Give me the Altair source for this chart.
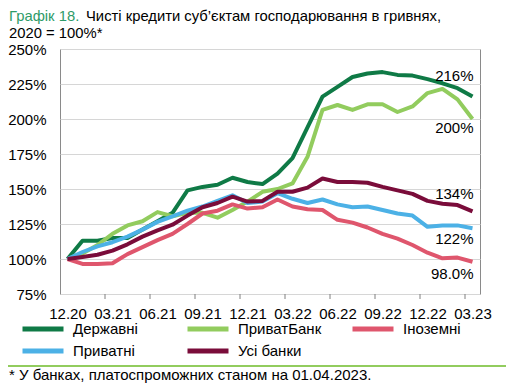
import altair as alt
import pandas as pd

FONT = "Liberation Sans"

months = ["12.20", "01.21", "02.21", "03.21", "04.21", "05.21", "06.21", "07.21",
          "08.21", "09.21", "10.21", "11.21", "12.21", "01.22", "02.22", "03.22",
          "04.22", "05.22", "06.22", "07.22", "08.22", "09.22", "10.22", "11.22",
          "12.22", "01.23", "02.23", "03.23"]

state = [100, 113, 113, 115, 115, 121, 127, 133, 149, 151.5, 153, 158, 155, 153.5,
         161, 172, 194, 216, 223, 230, 232.5, 233.5, 231.5, 231, 228.5, 225.5, 222, 216]
privatbank = [100, 104, 110, 118, 124, 127, 133.5, 130.5, 133, 133, 129.5, 135, 141, 148,
              150, 154, 173, 206.5, 210, 206.5, 210.5, 210.5, 205, 209, 218.5, 221.5, 214, 200]
foreign = [100, 96.5, 96.5, 97, 103.5, 108.5, 113.5, 118, 125, 132.5, 134.5, 139, 136, 137,
           142.5, 137.5, 135.5, 135, 128, 126, 122.5, 118, 114.5, 110, 104.5, 100.5, 101, 98]
private = [100, 105, 109, 112, 116, 121, 126.5, 130.5, 134.5, 137.5, 141.5, 145.5, 140, 141,
           147, 143, 140, 142.5, 139, 137, 137.5, 135, 132.5, 131, 123, 124, 124, 122]
all_banks = [100, 101.5, 103, 106, 110.5, 116, 120.5, 124.5, 131, 137, 140, 144.5, 141, 141.5,
             148, 148, 151, 157.5, 155, 155, 154.5, 151.5, 149, 146.5, 141.5, 139.5, 138.5, 134]

series_names = ["Державні", "ПриватБанк", "Іноземні", "Приватні", "Усі банки"]
series_colors = ["#0f7a46", "#92cc5e", "#df566d", "#4cb1e6", "#7a0c3a"]
end_labels = ["216%", "200%", "98.0%", "122%", "134%"]

title_prefix = "Графік 18."
title_line1 = "Чисті кредити суб’єктам господарювання в гривнях,"
title_line2 = "2020 = 100%*"
footnote = "* У банках, платоспроможних станом на 01.04.2023."

W, H = 420, 245

all_values = [state, privatbank, foreign, private, all_banks]
rows = []
for name, vals in zip(series_names, all_values):
    for i, v in enumerate(vals):
        rows.append({"idx": i, "month": months[i], "series": name, "value": v})
df = pd.DataFrame(rows)

label_expr = "[" + ",".join(f"'{m}'" for m in months) + "][datum.value]"
x_scale = alt.Scale(domain=[-0.5, len(months) - 0.5], nice=False, zero=False)
y_scale = alt.Scale(domain=[75, 250], nice=False, zero=False)

x_axis = alt.Axis(values=list(range(0, len(months), 3)), labelExpr=label_expr,
                  title=None, grid=False, ticks=False, tickSize=0, domain=False,
                  labelFontSize=15, labelFont=FONT, labelColor="#000000",
                  labelPadding=12, labelAngle=0, labelFlush=False, labelOverlap=False)
y_axis = alt.Axis(values=list(range(75, 251, 25)), labelExpr="datum.value + '%'",
                  title=None, grid=True, gridColor="#d6d6d6", gridWidth=1.2,
                  ticks=False, tickSize=0, domain=False,
                  labelFontSize=15, labelFont=FONT, labelColor="#000000",
                  labelPadding=14)


def xenc():
    return alt.X("idx:Q", scale=x_scale, axis=x_axis, title=None)


def yenc():
    return alt.Y("value:Q", scale=y_scale, axis=y_axis, title=None)


lines = alt.Chart(df).mark_line(strokeWidth=4, strokeJoin="round").encode(
    x=xenc(),
    y=yenc(),
    color=alt.Color("series:N",
                    scale=alt.Scale(domain=series_names, range=series_colors),
                    legend=alt.Legend(title=None, orient="none", legendX=-40, legendY=270,
                                      direction="horizontal", columns=3,
                                      symbolType="stroke", symbolSize=1681,
                                      symbolStrokeWidth=5, clipHeight=20,
                                      labelFontSize=15, labelFont=FONT,
                                      labelColor="#000000", labelOffset=7,
                                      columnPadding=28, rowPadding=2, gridAlign="all",
                                      padding=0, offset=0)),
)

tick_df = pd.DataFrame({"idx": [i + 2.5 for i in range(0, len(months) - 3, 3)]})
ticks = alt.Chart(tick_df).mark_rule(color="#808080", strokeWidth=1).encode(
    x=xenc(),
    y=alt.value(H), y2=alt.value(H + 5),
)

dy_map = {"Державні": -21, "ПриватБанк": 9, "Іноземні": 12, "Приватні": 11, "Усі банки": -17}
ann_layers = []
for name, vals, lab in zip(series_names, all_values, end_labels):
    adf = pd.DataFrame({"idx": [len(vals) - 1], "value": [vals[-1]], "label": [lab]})
    ann_layers.append(
        alt.Chart(adf).mark_text(align="right", baseline="middle", fontSize=15,
                                 font=FONT, color="#000000", dx=1, dy=dy_map[name]).encode(
            x=xenc(),
            y=yenc(),
            text="label:N",
        )
    )


def text_layer(txt, x, y, color="#000000", size=15):
    return alt.Chart(pd.DataFrame({"t": [txt]})).mark_text(
        align="left", baseline="alphabetic", fontSize=size, font=FONT, color=color
    ).encode(text="t:N", x=alt.value(x), y=alt.value(y))


title_a = text_layer(title_prefix, -51, -27.8, color="#2e9b68", size=14.8)
title_b = text_layer(title_line1, 26, -27.8, size=14.8)
title_c = text_layer(title_line2, -51, -11.3, size=14.8)
foot = text_layer(footnote, -51, 331)

sep = alt.Chart(pd.DataFrame({"a": [0]})).mark_rule(color="#92cc5e", strokeWidth=2).encode(
    x=alt.value(-52), x2=alt.value(447), y=alt.value(317)
)

chart = alt.layer(lines, ticks, *ann_layers, title_a, title_b, title_c, sep, foot).properties(
    width=W, height=H,
    padding={"left": 52, "top": 41, "right": 26, "bottom": 92},
    autosize=alt.AutoSizeParams(type="none"),
    background="white",
).configure(font=FONT).configure_view(stroke="#8a8a8a", strokeWidth=1).configure_legend(
    gridAlign="all")

chart.save("out.html", embed_options={"renderer": "svg", "actions": False})
